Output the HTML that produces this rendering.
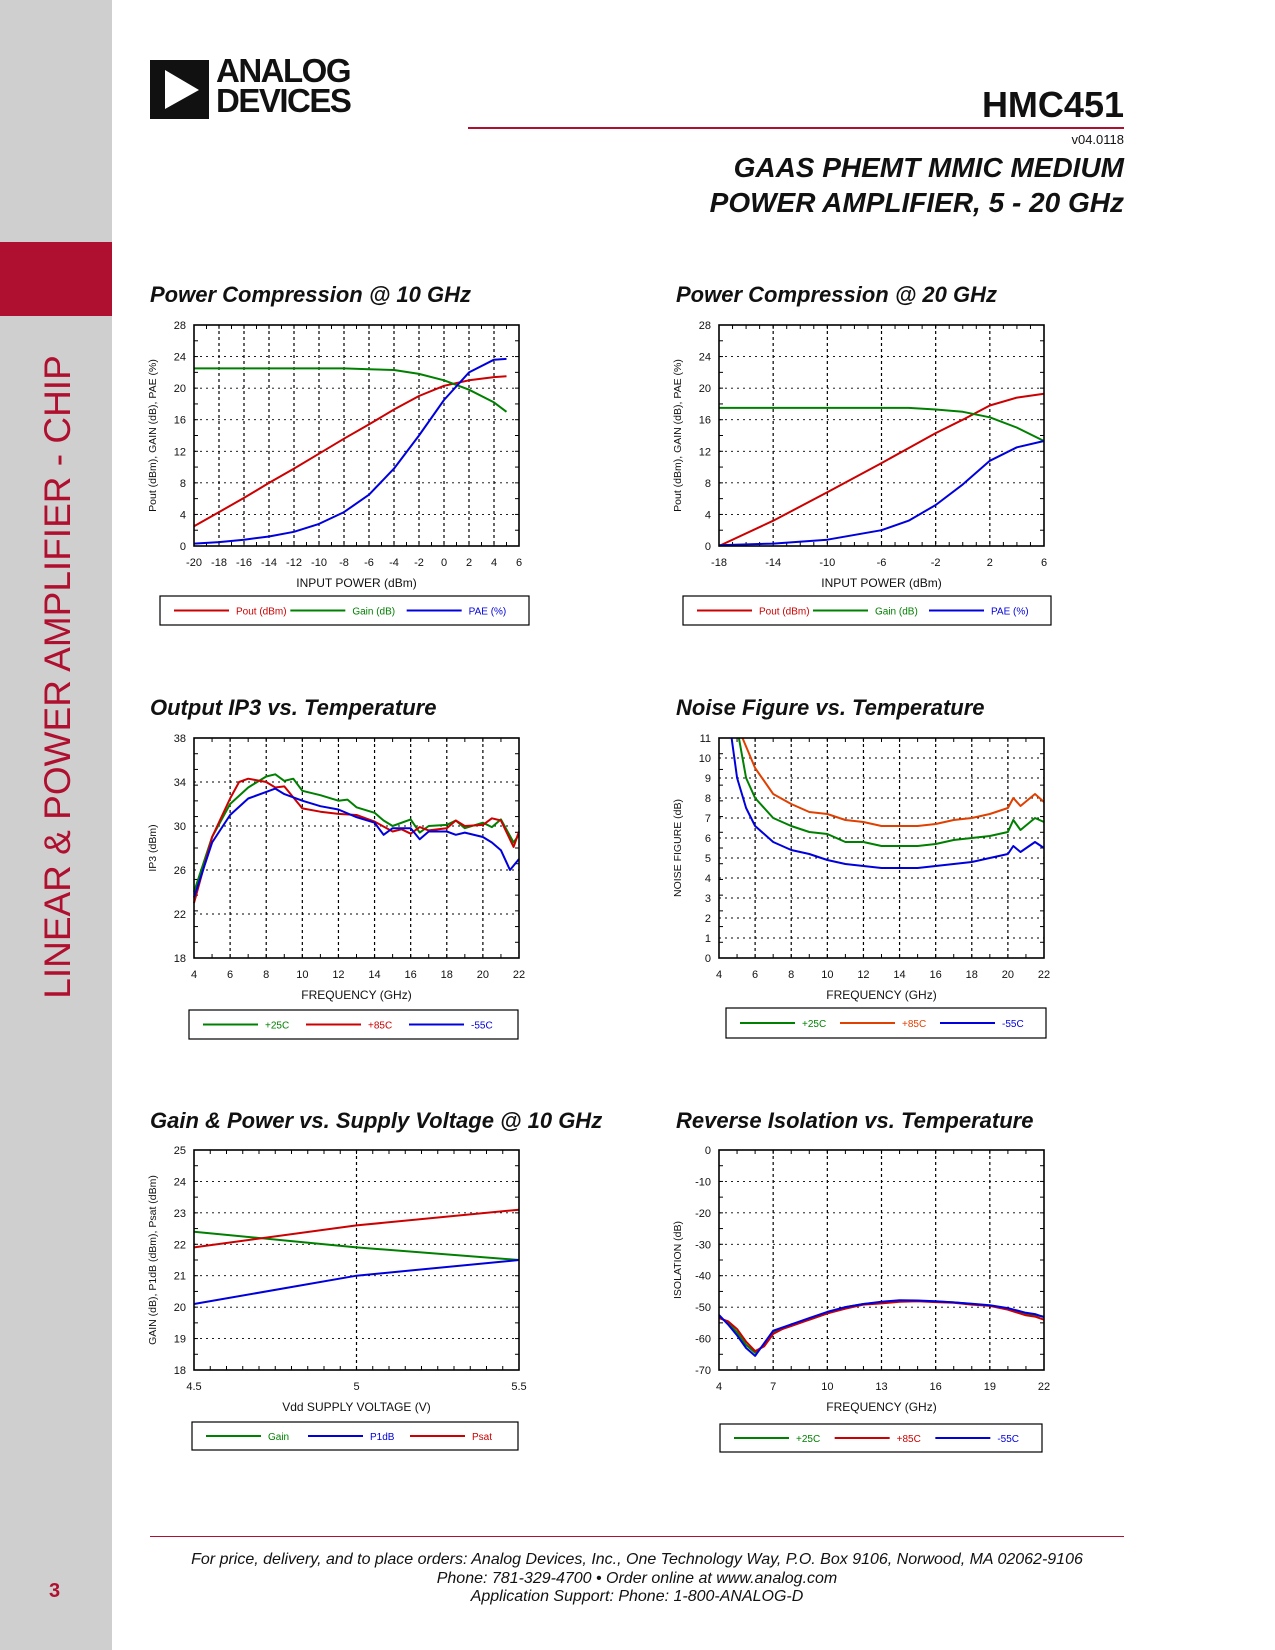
<!DOCTYPE html>
<html><head><meta charset="utf-8"><style>
body{margin:0;width:1275px;height:1650px;position:relative;background:#fff;font-family:"Liberation Sans",sans-serif;overflow:hidden}
.abs{position:absolute}
.ct{position:absolute;font-size:22px;font-weight:bold;font-style:italic;color:#111;white-space:nowrap}
</style></head><body>
<div class="abs" style="left:0;top:0;width:112px;height:1650px;background:#cfcfcf"></div>
<div class="abs" style="left:0;top:242px;width:112px;height:74px;background:#b0102f"></div>
<div class="abs" style="left:58px;top:677px;transform:translate(-50%,-50%) rotate(-90deg);color:#b0102f;font-size:37px;white-space:nowrap">LINEAR &amp; POWER AMPLIFIER - CHIP</div>
<div class="abs" style="left:49px;top:1580px;color:#b0102f;font-size:20px;font-weight:bold">3</div>
<div class="abs" style="left:150px;top:58px;width:215px;height:62px">
<div style="position:absolute;left:0;top:2px;width:59px;height:59px;background:#111"></div>
<svg style="position:absolute;left:0;top:2px" width="59" height="59"><polygon points="15,10 15,49 49,30" fill="#fff"/></svg>
<div style="position:absolute;left:66px;top:-2px;font-size:33px;font-weight:bold;line-height:30px;letter-spacing:-1.5px;color:#111">ANALOG<br>DEVICES</div>
</div>
<div class="abs" style="right:151px;top:84px;font-size:36px;font-weight:bold;color:#111">HMC451</div>
<div class="abs" style="left:468px;top:127px;width:656px;height:2px;background:#b0102f"></div>
<div class="abs" style="right:151px;top:132px;font-size:13px;color:#111">v04.0118</div>
<div class="abs" style="right:151px;top:150px;font-size:28px;font-weight:bold;font-style:italic;text-align:right;line-height:35px;color:#111">GAAS PHEMT MMIC MEDIUM<br>POWER AMPLIFIER, 5 - 20 GHz</div>

<div class="ct" style="left:150px;top:282px">Power Compression @ 10 GHz</div>
<div class="ct" style="left:676px;top:282px">Power Compression @ 20 GHz</div>
<div class="ct" style="left:150px;top:695px">Output IP3 vs. Temperature</div>
<div class="ct" style="left:676px;top:695px">Noise Figure vs. Temperature</div>
<div class="ct" style="left:150px;top:1108px">Gain &amp; Power vs. Supply Voltage @ 10 GHz</div>
<div class="ct" style="left:676px;top:1108px">Reverse Isolation vs. Temperature</div>

<div class="abs" style="left:150px;top:1536px;width:974px;height:1px;background:#b0102f"></div>
<div class="abs" style="left:150px;width:974px;top:1551px;text-align:center;font-size:16px;font-style:italic;line-height:18.5px;color:#111">For price, delivery, and to place orders: Analog Devices, Inc., One Technology Way, P.O. Box 9106, Norwood, MA 02062-9106<br>Phone: 781-329-4700 • Order online at www.analog.com<br>Application Support: Phone: 1-800-ANALOG-D</div>

<svg id="charts" class="abs" style="left:0;top:0" width="1275" height="1650"></svg>
<script>
// Chart 1: Power Compression @ 10 GHz
const c1X=[-20,-18,-16,-14,-12,-10,-8,-6,-4,-2,0,2,4,5];
const c1Pout=[2.5,4.3,6.1,8,9.8,11.7,13.6,15.4,17.3,19,20.3,21,21.4,21.5];
const c1Gain=[22.5,22.5,22.5,22.5,22.5,22.5,22.5,22.4,22.3,21.8,21,19.8,18.2,17];
const c1PAE=[0.3,0.5,0.8,1.2,1.8,2.8,4.3,6.5,9.8,14,18.5,22,23.6,23.7];
const c1XTicks=[-20,-18,-16,-14,-12,-10,-8,-6,-4,-2,0,2,4,6];
const c1YTicks=[0,4,8,12,16,20,24,28];
// Chart 2: Power Compression @ 20 GHz
const c2X=[-18,-14,-10,-6,-4,-2,0,2,4,6];
const c2Pout=[0,3.2,6.8,10.5,12.4,14.3,16,17.8,18.8,19.3];
const c2Gain=[17.5,17.5,17.5,17.5,17.5,17.3,17,16.3,15,13.3];
const c2PAE=[0.1,0.3,0.8,2,3.2,5.2,7.8,10.8,12.5,13.3];
const c2XTicks=[-18,-14,-10,-6,-2,2,6];
const c2YTicks=[0,4,8,12,16,20,24,28];
// Chart 3: Output IP3
const c3X25=[4,5,6,7,8,8.5,9,9.5,10,11,12,12.5,13,14,14.5,15,16,16.5,17,18,18.5,19,20,20.5,21,21.7,22];
const c3Y25=[24,29,32,33.5,34.5,34.7,34.1,34.3,33.2,32.8,32.3,32.4,31.7,31.2,30.5,30,30.6,29.4,30,30.1,30.5,29.8,30.3,29.9,30.6,28.5,29.2];
const c3X85=[4,5,6,6.5,7,8,8.5,9,10,11,12,13,14,15,15.5,16,16.5,17,18,18.5,19,20,20.5,21,21.7,22];
const c3Y85=[23,29,32.5,34,34.3,34,33.5,33.6,31.6,31.3,31.1,31,30.4,29.5,29.7,29.3,29.9,29.6,29.8,30.5,30,30.1,30.7,30.5,28.1,29.5];
const c3X55=[4,5,6,7,8,8.5,9,10,11,12,13,14,14.5,15,16,16.5,17,18,18.5,19,20,20.5,21,21.5,22];
const c3Y55=[23.5,28.5,31,32.5,33.1,33.4,32.9,32.3,31.8,31.5,30.8,30.3,29.2,29.8,29.8,28.8,29.5,29.5,29.2,29.4,29,28.5,27.8,26,27];
const c3XTicks=[4,6,8,10,12,14,16,18,20,22];
const c3YTicks=[18,22,26,30,34,38];
// Chart 4: Noise Figure
const c4X25=[5.1,5.5,6,7,8,9,10,11,12,13,14,15,16,17,18,19,20,20.3,20.7,21.5,22];
const c4Y25=[11,9,8,7,6.6,6.3,6.2,5.8,5.8,5.6,5.6,5.6,5.7,5.9,6,6.1,6.3,6.9,6.4,7,6.8];
const c4X85=[5.3,6,7,8,9,10,11,12,13,14,15,16,17,18,19,20,20.3,20.7,21.5,22];
const c4Y85=[11,9.5,8.2,7.7,7.3,7.2,6.9,6.8,6.6,6.6,6.6,6.7,6.9,7,7.2,7.5,8,7.6,8.2,7.8];
const c4X55=[4.7,5,5.5,6,7,8,9,10,11,12,13,14,15,16,17,18,19,20,20.3,20.7,21.5,22];
const c4Y55=[11,9,7.5,6.6,5.8,5.4,5.2,4.9,4.7,4.6,4.5,4.5,4.5,4.6,4.7,4.8,5,5.2,5.6,5.3,5.8,5.5];
const c4XTicks=[4,6,8,10,12,14,16,18,20,22];
const c4YTicks=[0,1,2,3,4,5,6,7,8,9,10,11];
// Chart 5: Supply Voltage
const c5X=[4.5,5,5.5];
const c5Gain=[22.4,21.9,21.5];
const c5P1dB=[20.1,21,21.5];
const c5Psat=[21.9,22.6,23.1];
const c5XTicks=[4.5,5,5.5];
const c5YTicks=[18,19,20,21,22,23,24,25];
// Chart 6: Reverse Isolation
const c6X=[4,4.5,5,5.5,6,6.5,7,7.5,8,9,10,11,12,13,14,15,16,17,18,19,20,21,21.5,22];
const c6Y25=[-53,-55,-58,-62,-64.5,-62,-58,-57,-55.5,-54,-52,-50,-49,-48.5,-48,-48,-48.2,-48.5,-49,-49.5,-50.5,-52,-52.5,-53];
const c6Y85=[-53.5,-54.5,-57,-61,-64,-62.5,-58.5,-57,-56,-54,-52,-50.5,-49.2,-48.8,-48.3,-48.1,-48.4,-48.6,-49.2,-49.6,-50.8,-52.6,-53,-54];
const c6Y55=[-52.5,-55.5,-59,-63,-65.5,-61.5,-57.5,-56.5,-55.5,-53.5,-51.5,-50,-49,-48.3,-47.8,-47.9,-48.1,-48.5,-48.9,-49.4,-50.3,-51.8,-52.2,-53.2];
const c6XTicks=[4,7,10,13,16,19,22];
const c6YTicks=[-70,-60,-50,-40,-30,-20,-10,0];

const NS='http://www.w3.org/2000/svg';
const svg=document.getElementById('charts');
function mk(tag,attrs,parent){const e=document.createElementNS(NS,tag);for(const k in attrs)e.setAttribute(k,attrs[k]);(parent||svg).appendChild(e);return e;}
function chart(o){
  const g=mk('g',{});
  
  
  const sx=v=>o.x0+(v-o.xmin)/(o.xmax-o.xmin)*(o.x1-o.x0);
  const sy=v=>o.y1-(v-o.ymin)/(o.ymax-o.ymin)*(o.y1-o.y0);
  o.xticks.forEach(t=>{
    const x=sx(t);
    if(t!==o.xmin&&t!==o.xmax){const l=mk('line',{x1:x,x2:x,y1:o.y0,y2:o.y1,stroke:'#000','stroke-width':1.2,'stroke-dasharray':'3,3'},g);
    
    }
    const tx=mk('text',{x:x,y:o.y1+20,'font-size':11,'text-anchor':'middle',fill:'#111'},g);tx.textContent=t;
    
    
  });
  o.yticks.forEach(t=>{
    const y=sy(t);
    if(t!==o.ymin&&t!==o.ymax){const l=mk('line',{x1:o.x0,x2:o.x1,y1:y,y2:y,stroke:'#000','stroke-width':0.9,'stroke-dasharray':'2,4'},g);
    
    }
    const tx=mk('text',{x:o.x0-8,y:y+4,'font-size':11,'text-anchor':'end',fill:'#111'},g);tx.textContent=t;
    
    
  });
  const nm=o.minor||20;
  for(let i=1;i<nm;i++){const x=o.x0+i*(o.x1-o.x0)/nm;mk('line',{x1:x,x2:x,y1:o.y1,y2:o.y1-4,stroke:'#000'},g);mk('line',{x1:x,x2:x,y1:o.y0,y2:o.y0+4,stroke:'#000'},g);}
  for(let i=1;i<14;i++){const y=o.y0+i*(o.y1-o.y0)/14;mk('line',{x1:o.x0,x2:o.x0+4,y1:y,y2:y,stroke:'#000'},g);mk('line',{x1:o.x1,x2:o.x1-4,y1:y,y2:y,stroke:'#000'},g);}
  o.series.forEach(s=>{
    const p=s.x.map((v,i)=>sx(v).toFixed(1)+','+sy(s.y[i]).toFixed(1)).join(' ');
    const pl=mk('polyline',{points:p,fill:'none',stroke:s.c,'stroke-width':s.w||2,'stroke-linejoin':'round'},g);
    
    
  });
  const fr=mk('rect',{x:o.x0,y:o.y0,width:o.x1-o.x0,height:o.y1-o.y0,fill:'none',stroke:'#000','stroke-width':1.6},g);
  
  
  const xt=mk('text',{x:(o.x0+o.x1)/2,y:o.y1+41,'font-size':12,'text-anchor':'middle',fill:'#111'},g);xt.textContent=o.xt;
  
  
  const yc=(o.y0+o.y1)/2;const yx=o.x0-38;
  const yt=mk('text',{x:yx,y:yc,'font-size':10.5,'text-anchor':'middle',fill:'#111',transform:`rotate(-90 ${yx} ${yc})`},g);yt.textContent=o.yt;
  
  
  const L=o.leg;
  const lb=mk('rect',{x:L.x0,y:L.y0,width:L.x1-L.x0,height:L.y1-L.y0,fill:'#fff',stroke:'#000','stroke-width':1.2},g);
  
  
  const w=(L.x1-L.x0-20)/3;const ly=(L.y0+L.y1)/2;
  o.series.forEach((s,i)=>{
    const bx=L.x0+14+i*w;
    const ll=mk('line',{x1:bx,x2:bx+55,y1:ly,y2:ly,stroke:s.c,'stroke-width':s.w||2},g);
    
    
    const lt=mk('text',{x:bx+62,y:ly+4,'font-size':10,'text-anchor':'start',fill:s.c},g);lt.textContent=s.label;
    
    
  });
}
const R='#cc0000',G='#008000',B='#0000dd',O='#e04000';
chart({name:'chart-power-comp-10ghz',x0:194,x1:519,y0:325,y1:546,xmin:-20,xmax:6,ymin:0,ymax:28,xticks:c1XTicks,yticks:c1YTicks,minor:26,
 xt:'INPUT POWER (dBm)',yt:'Pout (dBm), GAIN (dB), PAE (%)',leg:{x0:160,x1:529,y0:596,y1:625},
 series:[{x:c1X,y:c1Pout,c:R,n:'pout-line',label:'Pout (dBm)'},{x:c1X,y:c1Gain,c:G,n:'gain-line',label:'Gain (dB)'},{x:c1X,y:c1PAE,c:B,n:'pae-line',label:'PAE (%)'}]});
chart({name:'chart-power-comp-20ghz',x0:719,x1:1044,y0:325,y1:546,xmin:-18,xmax:6,ymin:0,ymax:28,xticks:c2XTicks,yticks:c2YTicks,minor:24,
 xt:'INPUT POWER (dBm)',yt:'Pout (dBm), GAIN (dB), PAE (%)',leg:{x0:683,x1:1051,y0:596,y1:625},
 series:[{x:c2X,y:c2Pout,c:R,n:'pout-line',label:'Pout (dBm)'},{x:c2X,y:c2Gain,c:G,n:'gain-line',label:'Gain (dB)'},{x:c2X,y:c2PAE,c:B,n:'pae-line',label:'PAE (%)'}]});
chart({name:'chart-ip3-temp',x0:194,x1:519,y0:738,y1:958,xmin:4,xmax:22,ymin:18,ymax:38,xticks:c3XTicks,yticks:c3YTicks,minor:18,
 xt:'FREQUENCY (GHz)',yt:'IP3 (dBm)',leg:{x0:189,x1:518,y0:1010,y1:1039},
 series:[{x:c3X25,y:c3Y25,c:G,n:'ip3-25c',label:'+25C'},{x:c3X85,y:c3Y85,c:R,n:'ip3-85c',label:'+85C'},{x:c3X55,y:c3Y55,c:B,n:'ip3-m55c',label:'-55C'}]});
chart({name:'chart-noise-figure',x0:719,x1:1044,y0:738,y1:958,xmin:4,xmax:22,ymin:0,ymax:11,xticks:c4XTicks,yticks:c4YTicks,minor:18,
 xt:'FREQUENCY (GHz)',yt:'NOISE FIGURE (dB)',leg:{x0:726,x1:1046,y0:1008,y1:1038},
 series:[{x:c4X25,y:c4Y25,c:G,n:'nf-25c',label:'+25C'},{x:c4X85,y:c4Y85,c:O,n:'nf-85c',label:'+85C'},{x:c4X55,y:c4Y55,c:B,n:'nf-m55c',label:'-55C'}]});
chart({name:'chart-supply-voltage',x0:194,x1:519,y0:1150,y1:1370,xmin:4.5,xmax:5.5,ymin:18,ymax:25,xticks:c5XTicks,yticks:c5YTicks,minor:20,
 xt:'Vdd SUPPLY VOLTAGE (V)',yt:'GAIN (dB), P1dB (dBm), Psat (dBm)',leg:{x0:192,x1:518,y0:1422,y1:1450},
 series:[{x:c5X,y:c5Gain,c:G,n:'gain-line',label:'Gain'},{x:c5X,y:c5P1dB,c:B,n:'p1db-line',label:'P1dB'},{x:c5X,y:c5Psat,c:R,n:'psat-line',label:'Psat'}]});
chart({name:'chart-reverse-isolation',x0:719,x1:1044,y0:1150,y1:1370,xmin:4,xmax:22,ymin:-70,ymax:0,xticks:c6XTicks,yticks:c6YTicks,minor:18,
 xt:'FREQUENCY (GHz)',yt:'ISOLATION (dB)',leg:{x0:720,x1:1042,y0:1424,y1:1452},
 series:[{x:c6X,y:c6Y25,c:G,n:'iso-25c',label:'+25C',w:2},{x:c6X,y:c6Y85,c:R,n:'iso-85c',label:'+85C',w:2},{x:c6X,y:c6Y55,c:B,n:'iso-m55c',label:'-55C',w:2}]});
</script>
</body></html>
